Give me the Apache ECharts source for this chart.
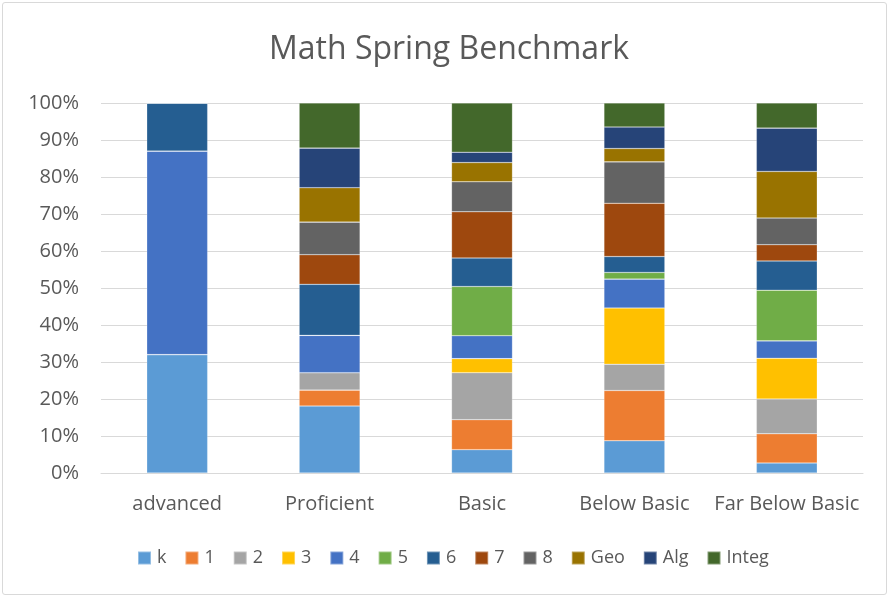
<!DOCTYPE html>
<html><head><meta charset="utf-8">
<script src="https://cdn.jsdelivr.net/npm/echarts@6/dist/echarts.min.js"></script>
<style>html,body{margin:0;padding:0;background:#fff;}
#wrap{position:absolute;left:2px;top:2px;width:883px;height:591px;border:1px solid #d9d9d9;border-radius:3px;}
#c{width:889px;height:597px;position:absolute;left:0;top:0;}</style>
</head><body><div id="wrap"></div><div id="c"></div>
<script>
const categories = ['advanced','Proficient','Basic','Below Basic','Far Below Basic'];
const seriesNames = ['k','1','2','3','4','5','6','7','8','Geo','Alg','Integ'];
const colors = ['#5B9BD5','#ED7D31','#A5A5A5','#FFC000','#4472C4','#70AD47','#255E91','#9E480E','#636363','#997300','#264478','#43682B'];
const k     = [32, 18.1, 6.3, 8.7, 2.7];
const g1    = [0, 4.3, 8.1, 13.6, 7.9];
const g2    = [0, 4.7, 12.7, 7.1, 9.4];
const g3    = [0, 0, 3.8, 15.2, 11.0];
const g4    = [55, 10.1, 6.2, 7.8, 4.7];
const g5    = [0, 0, 13.3, 1.8, 13.7];
const g6    = [13, 13.8, 7.7, 4.3, 7.9];
const g7    = [0, 8.0, 12.5, 14.4, 4.4];
const g8    = [0, 8.8, 8.1, 11.2, 7.2];
const geo   = [0, 9.3, 5.2, 3.6, 12.6];
const alg   = [0, 10.7, 2.8, 5.8, 11.7];
const integ = [0, 12.2, 13.3, 6.5, 6.8];
const yTicks = [0,10,20,30,40,50,60,70,80,90,100];
const allData = [k,g1,g2,g3,g4,g5,g6,g7,g8,geo,alg,integ];
const font = '"Open Sans", "Noto Sans", sans-serif';
const chart = echarts.init(document.getElementById('c'));
chart.setOption({
  animation:false,
  title:{text:'Math Spring Benchmark',left:264,top:29,textStyle:{fontFamily:font,fontSize:32,fontWeight:'normal',color:'#595959'}},
  grid:{left:101,right:26,top:103,bottom:124},
  legend:{bottom:25,left:132,itemWidth:13,itemHeight:13,itemGap:18,icon:'rect',
    textStyle:{fontFamily:font,fontSize:18,color:'#595959',padding:[0,0,0,1]},
    data:seriesNames},
  xAxis:{type:'category',data:categories,
    axisLine:{lineStyle:{color:'#d9d9d9'}},axisTick:{show:false},
    axisLabel:{interval:0,fontFamily:font,fontSize:20,color:'#595959',margin:21}},
  yAxis:{type:'value',min:0,max:100,interval:10,
    axisLabel:{fontFamily:font,fontSize:20,color:'#595959',margin:22,formatter:v=>yTicks.includes(v)?v+'%':''},
    splitLine:{lineStyle:{color:'#d9d9d9',width:1}},axisLine:{show:false},axisTick:{show:false}},
  series: seriesNames.map((n,i)=>({name:n,type:'bar',stack:'all',barWidth:'40%',data:allData[i],
    itemStyle:{color:colors[i],borderColor:'rgba(255,255,255,0.35)',borderWidth:0.6}}))
});
</script></body></html>
